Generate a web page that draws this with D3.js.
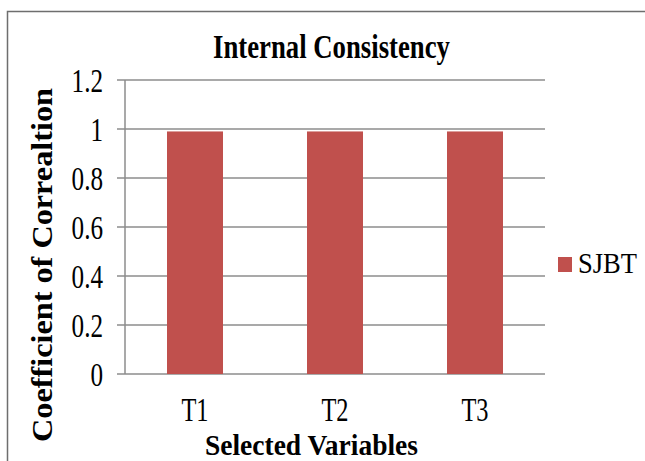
<!DOCTYPE html>
<html>
<head>
<meta charset="utf-8">
<title>Internal Consistency</title>
<script src="https://d3js.org/d3.v7.min.js"></script>
<style>
  body { margin: 0; background: #fff; }
  svg { display: block; }
</style>
</head>
<body>
<div id="chart"></div>
<script>
const categories = ["T1", "T2", "T3"];
const sjbt = [0.99, 0.99, 0.99];
const yTicks = [0, 0.2, 0.4, 0.6, 0.8, 1, 1.2];
const seriesName = "SJBT";

const W = 645, H = 461;
const margin = {top: 80, right: 100, bottom: 87, left: 125};
const w = W - margin.left - margin.right;
const h = H - margin.top - margin.bottom;
const sx = 0.74; // text in the source is squeezed horizontally
const serif = '"Liberation Serif"';

const svg = d3.select("#chart").append("svg")
    .attr("width", W).attr("height", H);

// outer frame (top + left only visible)
svg.append("path")
    .attr("d", `M7.5,${H} V11.5 H${W}`)
    .attr("fill", "none").attr("stroke", "#6e6e6e").attr("stroke-width", 1.5);

const g = svg.append("g").attr("transform", `translate(${margin.left},${margin.top})`);

const x = d3.scaleBand().domain(categories).range([0, w]).paddingInner(0.6).paddingOuter(0.3);
const y = d3.scaleLinear().domain([0, 1.2]).range([h, 0]);

// gridlines
g.selectAll(".grid").data(yTicks).enter().append("line")
    .attr("x1", -8).attr("x2", w)
    .attr("y1", d => y(d)).attr("y2", d => y(d))
    .attr("stroke", "#8c8c8c").attr("stroke-width", 1.5);

// bars
g.selectAll(".bar").data(sjbt).enter().append("rect")
    .attr("x", (d, i) => x(categories[i]))
    .attr("y", d => y(d))
    .attr("width", x.bandwidth())
    .attr("height", d => h - y(d))
    .attr("fill", "#c0504d");

// y axis line
g.append("line").attr("x1", 0).attr("x2", 0).attr("y1", 0).attr("y2", h)
    .attr("stroke", "#8c8c8c").attr("stroke-width", 1.5);

// y tick labels
g.selectAll(".ylab").data(yTicks).enter().append("text")
    .attr("transform", d => `translate(-22,${y(d) + 12}) scale(${sx},1)`)
    .attr("text-anchor", "end")
    .style("font-family", serif).attr("font-size", 34)
    .text(d => String(d));

// x tick labels
g.selectAll(".xlab").data(categories).enter().append("text")
    .attr("transform", d => `translate(${x(d) + x.bandwidth() / 2},${h + 47}) scale(${sx},1)`)
    .attr("text-anchor", "middle")
    .style("font-family", serif).attr("font-size", 33)
    .text(d => d);

// title
svg.append("text")
    .attr("x", 213).attr("y", 58)
    .attr("textLength", 237).attr("lengthAdjust", "spacingAndGlyphs")
    .style("font-family", serif).attr("font-weight", "bold").attr("font-size", 34)
    .text("Internal Consistency");

// x axis title
svg.append("text")
    .attr("x", 205).attr("y", 455)
    .attr("textLength", 213).attr("lengthAdjust", "spacingAndGlyphs")
    .style("font-family", serif).attr("font-weight", "bold").attr("font-size", 30)
    .text("Selected Variables");

// y axis title
svg.append("text")
    .attr("transform", "translate(52,442) rotate(-90)")
    .attr("textLength", 354).attr("lengthAdjust", "spacingAndGlyphs")
    .style("font-family", serif).attr("font-weight", "bold").attr("font-size", 30)
    .text("Coefficient of Correaltion");

// legend
const lg = svg.append("g").attr("transform", "translate(558,257)");
lg.append("rect").attr("width", 14).attr("height", 15).attr("fill", "#c0504d");
lg.append("text").attr("x", 20).attr("y", 16)
    .attr("textLength", 59).attr("lengthAdjust", "spacingAndGlyphs")
    .style("font-family", serif).attr("font-size", 30)
    .text(seriesName);
</script>
</body>
</html>
